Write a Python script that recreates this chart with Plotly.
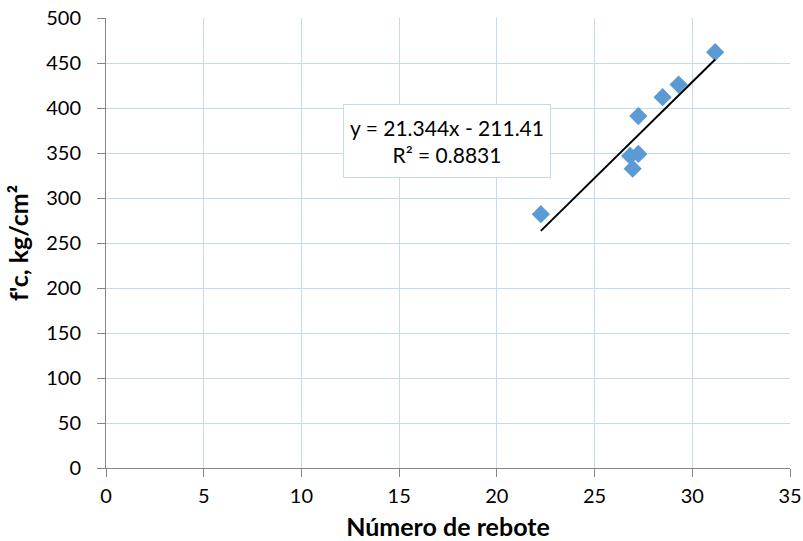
import plotly.graph_objects as go

# Data
rebote = [22.25, 26.82, 26.95, 27.24, 27.24, 28.48, 29.3, 31.17]
fc = [282, 346.7, 332.6, 349, 391, 412, 426, 462]

# Trendline as given on the chart
slope = 21.344
intercept = -211.41
r2 = 0.8831

x_ticks = [0, 5, 10, 15, 20, 25, 30, 35]
y_ticks = [0, 50, 100, 150, 200, 250, 300, 350, 400, 450, 500]

x_line = [min(rebote), max(rebote)]
y_line = [slope * v + intercept for v in x_line]

font_family = "Lato, 'Open Sans', sans-serif"
grid_color = "#c6d9f1"
axis_color = "#868686"

fig = go.Figure()
fig.add_trace(go.Scatter(
    x=rebote, y=fc, mode="markers",
    marker=dict(symbol="diamond", size=14, color="#5b9bd5"),
    showlegend=False, hoverinfo="x+y",
))
fig.add_trace(go.Scatter(
    x=x_line, y=y_line, mode="lines",
    line=dict(color="black", width=2),
    showlegend=False, hoverinfo="skip",
))

fig.add_annotation(
    xref="paper", yref="paper", x=0.4985, y=0.727,
    xanchor="center", yanchor="middle",
    text=f"y = {slope}x - {abs(intercept)}<br>R² = {r2}",
    showarrow=False, align="center", valign="middle", height=60,
    font=dict(family=font_family, size=21, color="black"),
    bgcolor="white", bordercolor=grid_color, borderwidth=1, borderpad=6,
)

fig.update_layout(
    width=803, height=541,
    margin=dict(l=106, r=13, t=18, b=73, autoexpand=False),
    paper_bgcolor="white", plot_bgcolor="white",
    font=dict(family=font_family, size=20, color="black"),
    xaxis=dict(
        range=[0, 35], tickvals=x_ticks, showgrid=True, gridcolor=grid_color,
        zeroline=False, showline=True, linecolor=axis_color, linewidth=1,
        ticks="outside", ticklen=8, tickcolor=axis_color, automargin=False,
        ticklabelstandoff=2,
        title=dict(text="<b>Número de rebote</b>", font=dict(size=25), standoff=16),
    ),
    yaxis=dict(
        range=[0, 500], tickvals=y_ticks, showgrid=True, gridcolor=grid_color,
        zeroline=False, showline=True, linecolor=axis_color, linewidth=1,
        ticks="outside", ticklen=8, tickcolor=axis_color, automargin=False,
        ticklabelstandoff=12,
        title=dict(text="<b>f'c, kg/cm²</b>", font=dict(size=25), standoff=10),
    ),
)

fig.write_html(
    "out.html",
    config={"displayModeBar": False},
    post_script="document.body.style.margin='0';document.body.style.overflow='hidden';",
)
